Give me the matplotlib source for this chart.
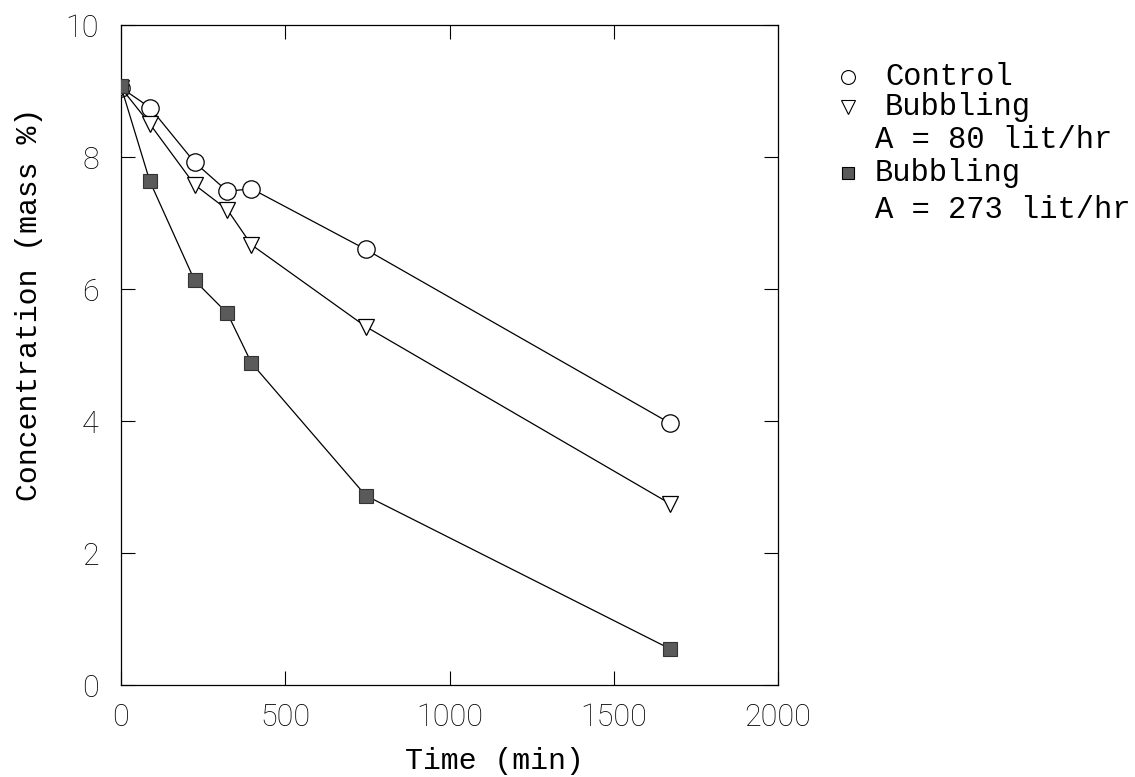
import matplotlib
matplotlib.use("Agg")
import matplotlib.pyplot as plt
from matplotlib.lines import Line2D

time_min = [0, 88, 224, 324, 397, 745, 1670]
control = [9.05, 8.75, 7.92, 7.48, 7.52, 6.60, 3.97]
bubbling_80 = [9.05, 8.50, 7.58, 7.20, 6.67, 5.43, 2.75]
bubbling_273 = [9.07, 7.63, 6.13, 5.63, 4.88, 2.87, 0.55]

x_ticks = [0, 500, 1000, 1500, 2000]
y_ticks = [0, 2, 4, 6, 8, 10]

fig = plt.figure(figsize=(11.35, 7.77), dpi=100)
ax = fig.add_axes([0.1066, 0.1184, 0.579, 0.8494])

ax.plot(time_min, control, color="black", lw=0.9, marker="o", ms=12.5,
        mfc="white", mec="black", mew=0.9, zorder=3)
ax.plot(time_min, bubbling_80, color="black", lw=0.9, marker="v", ms=11,
        mfc="white", mec="black", mew=0.9, zorder=3)
ax.plot(time_min, bubbling_273, color="black", lw=0.9, marker="s", ms=10,
        mfc="#5a5a5a", mec="#333333", mew=0.8, zorder=4)

ax.set_xlim(0, 2000)
ax.set_ylim(0, 10)
ax.set_xticks(x_ticks)
ax.set_yticks(y_ticks)
tick_font = dict(family="Roboto", weight="light", size=22)
ax.set_xticklabels([str(v) for v in x_ticks], **tick_font)
ax.set_yticklabels([str(v) for v in y_ticks], **tick_font)
ax.tick_params(direction="in", length=10, width=0.8, top=True, right=True)
ax.tick_params(axis="x", pad=13)
ax.tick_params(axis="y", pad=16)
for s in ax.spines.values():
    s.set_linewidth(0.9)

label_font = dict(family="Liberation Mono", size=21.5)
ax.set_xlabel("Time (min)", va="center", **label_font)
ax.xaxis.set_label_coords(0.568, -0.115)
ax.set_ylabel("Concentration (mass %)", va="center", **label_font)
ax.yaxis.set_label_coords(-0.140, 0.576)

# manual legend
leg_font = dict(family="Liberation Mono", size=22, va="center", ha="left")
rows = [
    (0.901, "o", "white", 10, "Control", 885),
    (0.862, "v", "white", 9.5, "Bubbling", 885),
    (0.820, None, None, 0, "A = 80 lit/hr", 875),
    (0.777, "s", "#5a5a5a", 8.5, "Bubbling", 875),
    (0.730, None, None, 0, "A = 273 lit/hr", 875),
]
for y, m, fc, msz, txt, xp in rows:
    if m is not None:
        fig.add_artist(Line2D([848 / 1135], [y], transform=fig.transFigure,
                              marker=m, ms=msz, mfc=fc,
                              mec="black", mew=0.8, ls="none"))
    fig.text(xp / 1135, y, txt, **leg_font)

fig.savefig("out.png", dpi=100)
